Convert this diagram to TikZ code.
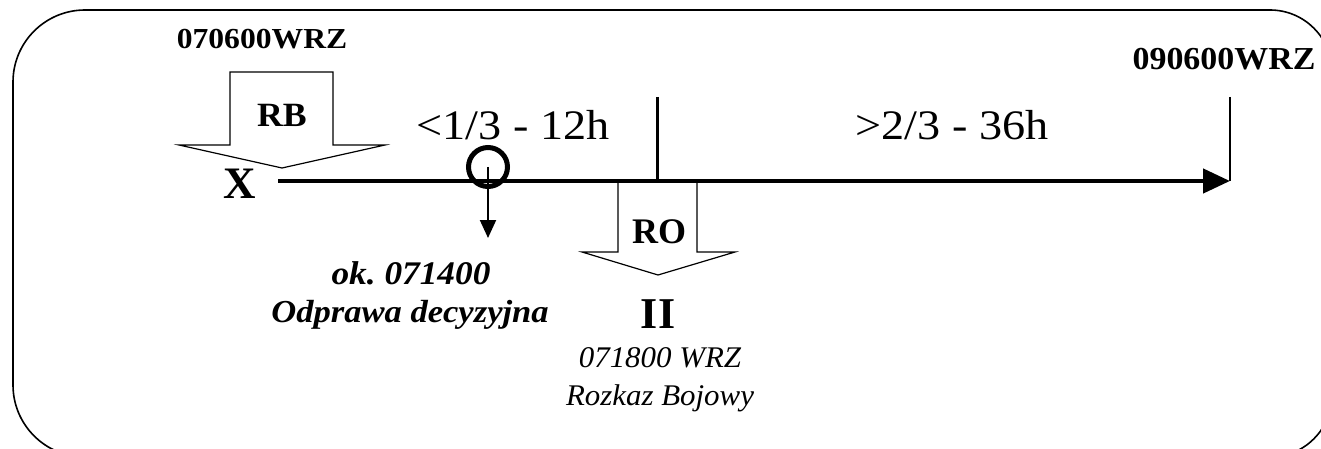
\documentclass[tikz,border=0pt]{standalone}
\usepackage{fontspec}
\usepackage{graphicx}
\setmainfont{Liberation Serif}
\usetikzlibrary{arrows.meta}
\tikzset{
  lbl/.style={anchor=base, inner sep=0pt, outer sep=0pt},
  blockarrow/.style={draw, fill=white, line width=1.2pt, line join=miter},
}
\newcommand{\fs}[1]{\fontsize{#1}{#1}\selectfont}
\newcommand{\hs}[2]{\scalebox{#1}[1]{#2}}
\frenchspacing
\begin{document}
\begin{tikzpicture}[x=1pt,y=1pt]
\useasboundingbox (0,0) rectangle (1321,-449);
% frame
\draw[line width=1.6pt] (13,-200) -- (13,-82) arc[start angle=180,end angle=90,radius=72]
  -- (1270,-10) arc[start angle=90,end angle=0,radius=62]
  -- (1332,-395) arc[start angle=0,end angle=-90,radius=62]
  -- (85,-457) arc[start angle=270,end angle=180,radius=72] -- cycle;
% RB block arrow
\draw[blockarrow] (230,-72) -- (333,-72) -- (333,-145) -- (385,-145) -- (282,-168) -- (179,-145) -- (230,-145) -- cycle;
\node[lbl, font=\fs{34}\bfseries] (rb) at (282,-127) {\hs{1.05}{RB}};
% RO block arrow
\draw[blockarrow] (618,-181) -- (697,-181) -- (697,-252) -- (735,-252) -- (658,-275) -- (582,-252) -- (618,-252) -- cycle;
\node[lbl, font=\fs{36}\bfseries] (ro) at (659,-243) {RO};
% axis
\coordinate (axS) at (278,-181);
\coordinate (axE) at (1230,-181);
\draw[line width=4.5pt, -{Triangle[length=27pt,width=24pt]}] (axS) -- (axE);
\coordinate (endTop) at (1230,-97);
\draw[line width=1.5pt] (endTop) -- (axE);
\coordinate (midTop) at (657,-97);
\coordinate (midBot) at (657,-181);
\draw[line width=3pt] (midTop) -- (midBot);
% circle and decision arrow
\node[circle, draw, line width=5pt, minimum size=39pt, inner sep=0pt] (circ) at (488,-167) {};
\coordinate (arrEnd) at (488,-238);
\draw[line width=2pt, -{Triangle[length=18pt,width=16pt]}] (circ.center) -- (arrEnd);
% labels
\node[lbl, font=\fs{29}\bfseries] (t1) at (262,-49) {\hs{1.09}{070600WRZ}};
\node[lbl, font=\fs{32}\bfseries] (t2) at (1224,-70) {\hs{1.06}{090600WRZ}};
\node[lbl, font=\fs{45}\bfseries] (x) at (240,-198) {X};
\node[lbl, font=\fs{42}] (p1) at (513,-140) {\hs{1.1}{<1/3 - 12h}};
\node[lbl, font=\fs{42}] (p2) at (952,-140) {\hs{1.1}{>2/3 - 36h}};
\node[lbl, font=\fs{33}\bfseries\itshape] (ok) at (411,-284) {\hs{1.07}{ok. 071400}};
\node[lbl, font=\fs{32}\bfseries\itshape] (od) at (410,-322) {\hs{1.08}{Odprawa decyzyjna}};
\node[lbl, font=\fs{44}\bfseries] (ii) at (658,-328) {II};
\node[lbl, font=\fs{30}\itshape] (rz) at (660,-367) {\hs{1.03}{071800 WRZ}};
\node[lbl, font=\fs{30}\itshape] (rbj) at (660,-405) {\hs{1.03}{Rozkaz Bojowy}};
\end{tikzpicture}
\end{document}
